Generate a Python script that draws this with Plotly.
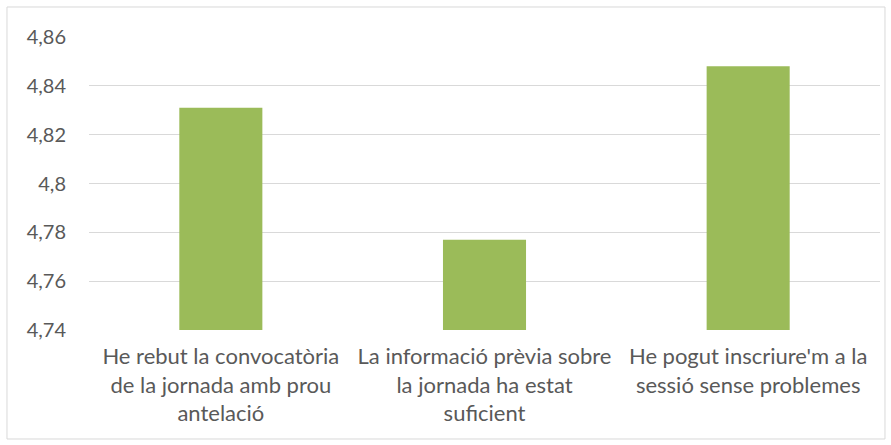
import plotly.graph_objects as go

categories = [
    "He rebut la convocatòria<br>de la jornada amb prou<br>antelació",
    "La informació prèvia sobre<br>la jornada ha estat<br>suficient",
    "He pogut inscriure'm a la<br>sessió sense problemes",
]
values = [4.831, 4.777, 4.848]
base_value = 4.74
tick_vals = [4.74, 4.76, 4.78, 4.80, 4.82, 4.84, 4.86]
tick_text = ["4,74", "4,76", "4,78", "4,8", "4,82", "4,84", "4,86"]

fig = go.Figure(go.Bar(
    x=categories, y=[v - base_value for v in values], base=base_value,
    marker=dict(color="#9BBB59", line=dict(width=0)),
    width=0.315,
))

fig.update_layout(
    width=891, height=445,
    margin=dict(l=89, r=11, t=37, b=115),
    paper_bgcolor="white", plot_bgcolor="white",
    font=dict(family="Lato, Open Sans, sans-serif", size=20, color="#595959"),
    showlegend=False,
    shapes=[dict(type="rect", xref="paper", yref="paper",
                 x0=-0.1037, x1=1.0063, y0=-0.372, y1=1.1024,
                 line=dict(color="#d9d9d9", width=1), fillcolor="rgba(0,0,0,0)",
                 layer="below")],
)
fig.update_xaxes(showgrid=False, showline=False, ticks="", automargin=False,
                 tickfont=dict(size=22), ticklabelstandoff=11)
fig.update_yaxes(range=[4.74, 4.86], tickvals=tick_vals, ticktext=tick_text,
                 showgrid=True, gridcolor="#d9d9d9", gridwidth=1.3,
                 zeroline=False, showline=False, ticks="", automargin=False,
                 ticklabelstandoff=22, tickfont=dict(size=20))

fig.write_html("out.html", config={"displayModeBar": False},
               post_script="document.body.style.margin='0';")
